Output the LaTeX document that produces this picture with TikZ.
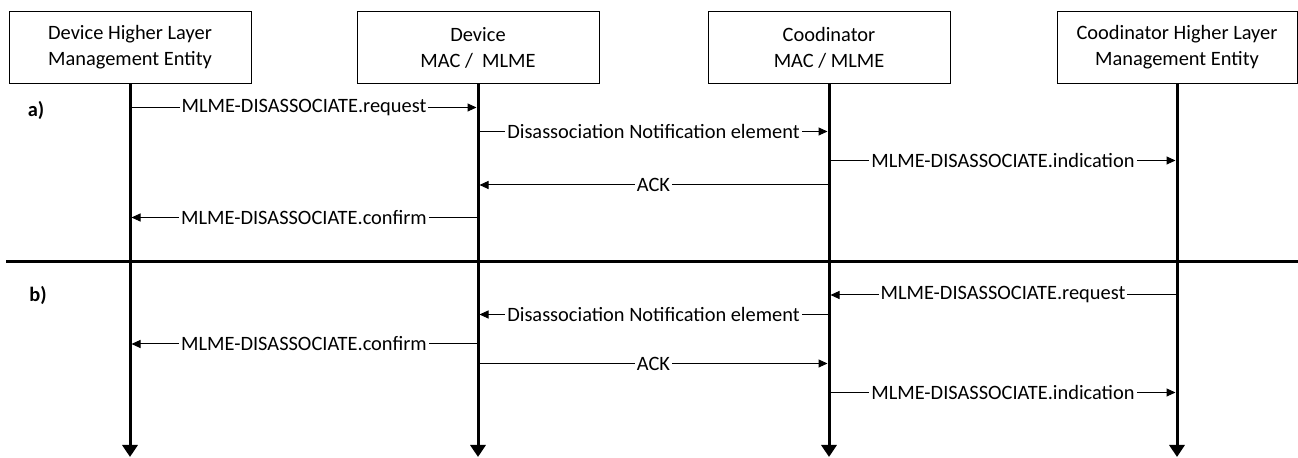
\documentclass[tikz,border=0pt]{standalone}
\usepackage{fontspec}
\setmainfont{Carlito}
\usetikzlibrary{arrows.meta}
\begin{document}
\begin{tikzpicture}[x=0.5pt,y=-0.5pt,
  entity/.style={draw, line width=0.5pt, minimum width=121pt, minimum height=36pt,
    align=center, inner sep=0pt, font=\fontsize{10.2}{13}\selectfont},
  lifeline/.style={line width=1.5pt, -{Triangle[width=7.5pt,length=6pt]}},
  msg/.style={line width=0.5pt, -{Triangle[width=4pt,length=4.5pt]}, shorten >=0.75pt},
  lbl/.style={fill=white, inner xsep=1pt, inner ysep=1pt, font=\fontsize{10.2}{12}\selectfont},
  tag/.style={font=\bfseries\fontsize{10.2}{12}\selectfont},
  divider/.style={line width=1.5pt}]

\useasboundingbox (0,0) rectangle (1298,458);

% participants
\node[entity] (dhl) at (130,47.5) {Device Higher Layer\\Management Entity};
\node[entity] (dmac) at (478,47.5) {Device\\MAC /\ \ MLME};
\node[entity] (cmac) at (829,47.5) {Coodinator\\MAC / MLME};
\node[entity, minimum width=120pt] (chl) at (1177,47.5) {Coodinator Higher Layer\\Management Entity};

% lifeline ends
\coordinate (dhlEnd) at (130,457);
\coordinate (dmacEnd) at (478,457);
\coordinate (cmacEnd) at (829,457);
\coordinate (chlEnd) at (1177,457);

\draw[lifeline] (dhl.south) -- (dhlEnd);
\draw[lifeline] (dmac.south) -- (dmacEnd);
\draw[lifeline] (cmac.south) -- (cmacEnd);
\draw[lifeline] (chl.south) -- (chlEnd);

% separator between the two cases
\coordinate (divL) at (6,262);
\coordinate (divR) at (1298,262);
\draw[divider] (divL) -- (divR);

% case labels
\node[tag] (taga) at (36,110) {a)};
\node[tag] (tagb) at (38,295) {b)};

% message rows
\coordinate (a1) at (0,107.5);
\coordinate (a2) at (0,131.5);
\coordinate (a3) at (0,160.5);
\coordinate (a4) at (0,185);
\coordinate (a5) at (0,217.5);
\coordinate (b1) at (0,295);
\coordinate (b2) at (0,314.5);
\coordinate (b3) at (0,344);
\coordinate (b4) at (0,363.5);
\coordinate (b5) at (0,392.5);

% a) device-initiated disassociation
\draw[msg] (dhl.south |- a1) -- node[lbl] {MLME-DISASSOCIATE.request} (dmac.south |- a1);
\draw[msg] (dmac.south |- a2) -- node[lbl] {Disassociation Notification element} (cmac.south |- a2);
\draw[msg] (cmac.south |- a3) -- node[lbl] {MLME-DISASSOCIATE.indication} (chl.south |- a3);
\draw[msg] (cmac.south |- a4) -- node[lbl] {ACK} (dmac.south |- a4);
\draw[msg] (dmac.south |- a5) -- node[lbl] {MLME-DISASSOCIATE.confirm} (dhl.south |- a5);

% b) coordinator-initiated disassociation
\draw[msg] (chl.south |- b1) -- node[lbl] {MLME-DISASSOCIATE.request} (cmac.south |- b1);
\draw[msg] (cmac.south |- b2) -- node[lbl] {Disassociation Notification element} (dmac.south |- b2);
\draw[msg] (dmac.south |- b3) -- node[lbl] {MLME-DISASSOCIATE.confirm} (dhl.south |- b3);
\draw[msg] (dmac.south |- b4) -- node[lbl] {ACK} (cmac.south |- b4);
\draw[msg] (cmac.south |- b5) -- node[lbl] {MLME-DISASSOCIATE.indication} (chl.south |- b5);

\end{tikzpicture}
\end{document}
